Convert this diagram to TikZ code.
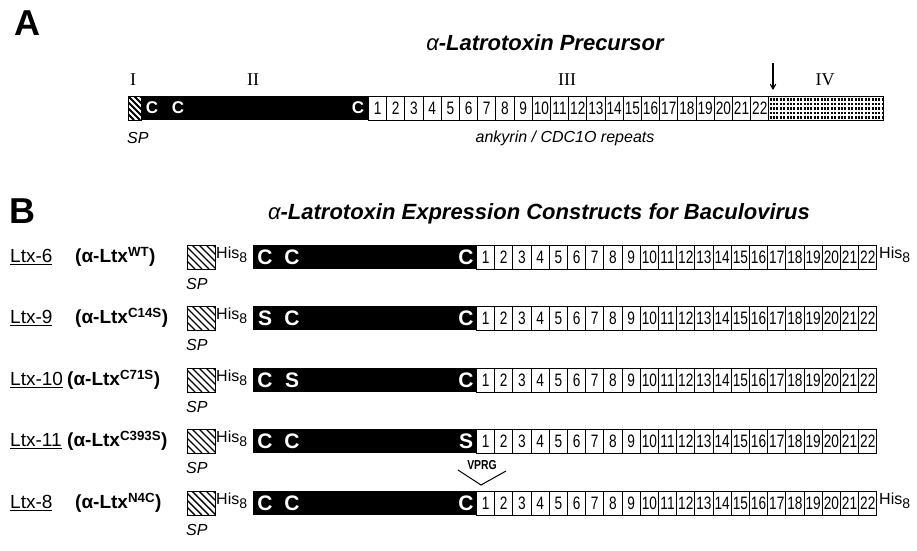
\documentclass[tikz,border=0pt]{standalone}
\usepackage{fontspec}
\setmainfont{Liberation Sans}
\newfontfamily\serifnum{Liberation Serif}
\newfontfamily\narrowsans[FakeStretch=0.76]{Liberation Sans}
\newfontfamily\vprgsans[FakeStretch=0.8]{Liberation Sans}
\usetikzlibrary{arrows}
\usetikzlibrary{positioning}
\tikzset{>=stealth'}
\newcommand{\hiseight}{His\raisebox{-4.5pt}{\fontsize{14}{14}\selectfont 8}}
\tikzset{
  panel/.style = {font=\bfseries\fontsize{36}{36}\selectfont, inner sep=0pt},
  heading/.style = {font=\bfseries\itshape\fontsize{22}{22}\selectfont, inner sep=0pt},
  numeral/.style = {font=\serifnum\fontsize{18}{18}\selectfont, inner sep=0pt},
  rep/.style = {draw, line width=0.9pt, anchor=west, inner sep=0pt,
    minimum width=18.2pt, minimum height=24pt,
    font=\narrowsans\fontsize{18}{18}\selectfont},
  cys/.style = {text=white, inner sep=0pt, font=\bfseries\fontsize{21}{21}\selectfont},
  cys_a/.style = {cys, font=\bfseries\fontsize{17}{17}\selectfont},
  sptag/.style = {font=\itshape\fontsize{16}{16}\selectfont, inner sep=0pt, anchor=west},
  his/.style = {font=\fontsize{16}{16}\selectfont, inner sep=0pt, anchor=base west},
  rowname/.style = {font=\fontsize{19}{19}\selectfont, inner sep=0pt, anchor=west},
  rowvar/.style = {font=\bfseries\fontsize{19}{19}\selectfont, inner sep=0pt, anchor=west},
  hatch/.style = {line width=1.4pt},
  vprg/.style = {font=\bfseries\vprgsans\fontsize{13}{13}\selectfont, inner sep=0pt}
}

\begin{document}
\begin{tikzpicture}[x=1pt,y=-1pt]
\useasboundingbox (0,0) rectangle (917,550);

% panel A
\node[panel] (lblA) at (27,23) {A};
\node[heading] (titleA) at (545,43) {{\mdseries α}-Latrotoxin Precursor};
\node[numeral] (domI) at (133,80) {I};
\node[numeral] (domII) at (253,80) {II};
\node[numeral] (domIII) at (567,80) {III};
\node[numeral] (domIV) at (825,80) {IV};
\coordinate (cut-top) at (773,63);
\coordinate (cut-bot) at (773,90);
\draw[-angle 60, line width=1.1pt] (cut-top) -- (cut-bot);

\begin{scope}
  \clip (128,96) rectangle (141,120);
  \foreach \s in {-30,-24,...,18}
    \draw[hatch, line width=2pt] (128+\s,96) -- ++(24,24);
\end{scope}
\draw[line width=0.9pt] (128,96) rectangle (141,120);
\fill (141,96) rectangle (368,120);
\node[cys_a] (a-c1) at (152,108) {C};
\node[cys_a] (a-c2) at (178,108) {C};
\node[cys_a] (a-c3) at (358,108) {C};
\foreach \i in {1,...,22}
  \node[rep] (a-r\i) at ({368+(\i-1)*18.2},108) {\i};
\foreach \r in {99.5,104,...,118}
  \draw[line width=2.2pt, dash pattern=on 2pt off 1.4pt] (769.5,\r) -- (882,\r);
\draw[line width=0.9pt] (768.4,96) rectangle (883,120);
\node[sptag] (a-sp) at (127,138) {SP};
\node[sptag, anchor=center] (a-ank) at (565,138) {ankyrin / CDC1O repeats};

% panel B
\node[panel] (lblB) at (22,211) {B};
\node[heading] (titleB) at (539,214) {{\mdseries α}-Latrotoxin Expression Constructs for Baculovirus};

\foreach \yc/\nm/\sup/\px/\ca/\cb/\cc/\tail in {
    257/6/WT/75/C/C/C/1,
    318/9/C14S/75/S/C/C/0,
    380/10/C71S/67/C/S/C/0,
    441/11/C393S/67/C/C/S/0,
    503/8/N4C/75/C/C/C/1}{
  \node[rowname] (ltx\nm) at (10,\yc) {\underline{Ltx-\nm}};
  \node[rowvar] (ltx\nm-var) at (\px,\yc) {(α-Ltx\textsuperscript{\sup})};
  \begin{scope}
    \clip (187,\yc-12) rectangle (215,\yc+12);
    \foreach \s in {-30,-23,...,30}
      \draw[hatch] (187+\s,\yc-12) -- ++(24,24);
  \end{scope}
  \draw[line width=0.9pt] (187,\yc-12) rectangle (215,\yc+12);
  \node[his] (ltx\nm-his) at (216,\yc+1) {\hiseight};
  \node[sptag] (ltx\nm-sp) at (186,\yc+27) {SP};
  \fill (253,\yc-12) rectangle (476,\yc+12);
  \node[cys] (ltx\nm-c1) at (265,\yc) {\ca};
  \node[cys] (ltx\nm-c2) at (292,\yc) {\cb};
  \node[cys] (ltx\nm-c3) at (466,\yc) {\cc};
  \foreach \i in {1,...,22}
    \node[rep] (ltx\nm-r\i) at ({476+(\i-1)*18.2},\yc) {\i};
  \ifnum\tail=1
    \node[his] (ltx\nm-tail) at (879,\yc+1) {\hiseight};
  \fi
}

% insertion in Ltx-8
\node[vprg] (vprg) at (482,465) {VPRG};
\coordinate (v-l) at (458,470);
\coordinate (v-m) at (481,485);
\coordinate (v-r) at (506,471);
\draw[line width=1pt] (v-l) -- (v-m) -- (v-r);
\end{tikzpicture}
\end{document}
